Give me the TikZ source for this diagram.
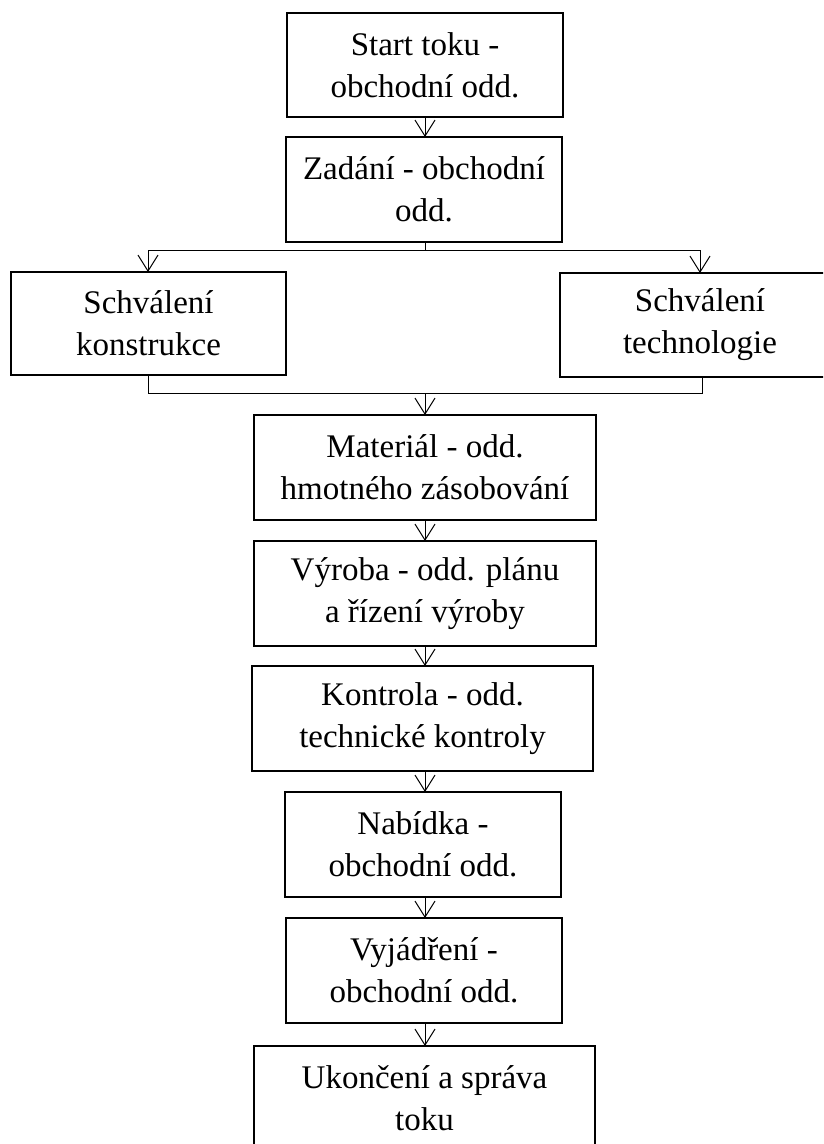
\documentclass[tikz,border=0pt]{standalone}
\usepackage{fontspec}
\setmainfont{Liberation Serif}
\usetikzlibrary{arrows.meta}
\begin{document}
\begin{tikzpicture}[x=1pt,y=-1pt,
  box/.style={draw=black, line width=2pt, inner sep=0pt, outer sep=0pt,
    align=center, font=\fontsize{33}{42}\selectfont},
  conn/.style={draw=black, line width=1pt},
  arr/.style={conn, -{Straight Barb[length=16pt,width=20pt,line width=1pt]}}
]
\useasboundingbox (0,0) rectangle (823,1144);
\clip (0,0) rectangle (823,1144);
\node[box, minimum width=276pt, minimum height=104pt] (start) at (425,65) {Start toku -\\obchodní odd.};
\node[box, minimum width=276pt, minimum height=105pt] (zadani) at (424,189.5) {Zadání - obchodní\\odd.};
\node[box, minimum width=275pt, minimum height=103pt] (konst) at (148.5,323.5) {Schválení\\konstrukce};
\node[box, minimum width=280pt, minimum height=104pt] (tech) at (700,325) {Schválení\\technologie};
\node[box, minimum width=342pt, minimum height=105pt] (mat) at (425,467.5) {Materiál - odd.\\hmotného zásobování};
\node[box, minimum width=342pt, minimum height=105pt] (vyr) at (425,593.5) {Výroba - odd. plánu\\a řízení výroby};
\node[box, minimum width=341pt, minimum height=105pt] (kon) at (422.5,718.5) {Kontrola - odd.\\technické kontroly};
\node[box, minimum width=276pt, minimum height=105pt] (nab) at (423,844.5) {Nabídka -\\obchodní odd.};
\node[box, minimum width=276pt, minimum height=105pt] (vyj) at (424,970.5) {Vyjádření -\\obchodní odd.};
\node[box, minimum width=341pt, minimum height=105pt] (uk) at (424.5,1098.5) {Ukončení a správa\\toku};

\coordinate (split) at (425,250);
\coordinate (splitL) at (148,250);
\coordinate (splitR) at (700,250);
\coordinate (mergeL) at (148,393);
\coordinate (mergeR) at (702,393);
\coordinate (merge) at (425,393);

\draw[arr] (start.south -| 425,0) -- (zadani.north -| 425,0);
\draw[conn] (zadani.south -| split) -- (split);
\draw[conn] (splitL) -- (splitR);
\draw[arr] (splitL) -- (konst.north -| splitL);
\draw[arr] (splitR) -- (tech.north -| splitR);
\draw[conn] (konst.south -| mergeL) -- (mergeL) -- (mergeR) -- (tech.south -| mergeR);
\draw[arr] (merge) -- (mat.north -| merge);
\draw[arr] (mat.south -| 425,0) -- (vyr.north -| 425,0);
\draw[arr] (vyr.south -| 425,0) -- (kon.north -| 425,0);
\draw[arr] (kon.south -| 425,0) -- (nab.north -| 425,0);
\draw[arr] (nab.south -| 425,0) -- (vyj.north -| 425,0);
\draw[arr] (vyj.south -| 425,0) -- (uk.north -| 425,0);
\end{tikzpicture}
\end{document}
